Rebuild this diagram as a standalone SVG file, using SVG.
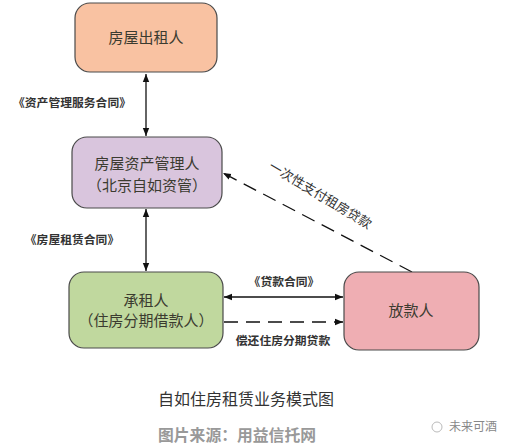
<svg xmlns="http://www.w3.org/2000/svg" width="513" height="448" viewBox="0 0 513 448">
<style>
.box{stroke:#4a4a4a;stroke-width:1.2}
.nt{font-family:"Noto Sans CJK SC","Noto Sans",sans-serif;font-size:15px;fill:#3b3b30;text-anchor:middle}
.lb{font-family:"Noto Sans CJK SC","Noto Sans",sans-serif;font-size:11.8px;font-weight:bold;fill:#333;text-anchor:middle}
.ln{stroke:#111;stroke-width:1.3;fill:none}
.dash{stroke-dasharray:14,8}
</style>
<defs>
<marker id="ah" viewBox="0 0 10 10" refX="10" refY="5" markerWidth="8" markerHeight="8" orient="auto-start-reverse" markerUnits="userSpaceOnUse">
<path d="M0,1 L10,5 L0,9 Z" fill="#111"/>
</marker>
</defs>
<rect width="513" height="448" fill="#fff"/>
<g id="connectors">
<line class="ln" x1="146" y1="74" x2="146" y2="136" marker-start="url(#ah)" marker-end="url(#ah)"/>
<line class="ln" x1="146" y1="209" x2="146" y2="271" marker-start="url(#ah)" marker-end="url(#ah)"/>
<line class="ln" x1="224" y1="297" x2="343" y2="297" marker-start="url(#ah)" marker-end="url(#ah)"/>
<line class="ln dash" x1="224" y1="322" x2="343" y2="322" marker-end="url(#ah)"/>
<line class="ln dash" x1="412" y1="272" x2="223" y2="173" marker-end="url(#ah)"/>
<text class="lb" x="72" y="107">《资产管理服务合同》</text>
<text class="lb" x="72" y="244">《房屋租赁合同》</text>
<text class="lb" x="284" y="286">《贷款合同》</text>
<text class="lb" x="283" y="345">偿还住房分期贷款</text>
<text class="lb" x="0" y="0" transform="translate(318,199) rotate(31)" style="font-weight:normal;font-size:13px">一次性支付租房贷款</text>
</g>
<g id="n1">
<rect class="box" x="75" y="3" width="142" height="69" rx="15" fill="#F9C2A2"/>
<text class="nt" x="146" y="43">房屋出租人</text>
</g>
<g id="n2">
<rect class="box" x="72" y="137" width="150" height="71" rx="15" fill="#D9C5DD"/>
<text class="nt" x="147" y="169">房屋资产管理人</text>
<text class="nt" x="147" y="191">（北京自如资管）</text>
</g>
<g id="n3">
<rect class="box" x="69" y="272" width="154" height="76" rx="15" fill="#C0D89E"/>
<text class="nt" x="146" y="306">承租人</text>
<text class="nt" x="146" y="326">（住房分期借款人）</text>
</g>
<g id="n4">
<rect class="box" x="344" y="272" width="135" height="78" rx="15" fill="#EFAEB3"/>
<text class="nt" x="411" y="316">放款人</text>
</g>
<text x="158" y="405" style="font-family:'Noto Sans CJK SC',sans-serif;font-size:16px;fill:#333">自如住房租赁业务模式图</text>
<text x="158" y="441" style="font-family:'Noto Sans CJK SC',sans-serif;font-size:15.8px;font-weight:bold;fill:#999">图片来源：用益信托网</text>
<text x="449" y="431" style="font-family:'Noto Sans CJK SC',sans-serif;font-size:12px;fill:#888">未来可酒</text>
<circle cx="437" cy="427" r="5" fill="none" stroke="#bbb" stroke-width="1"/>
</svg>
